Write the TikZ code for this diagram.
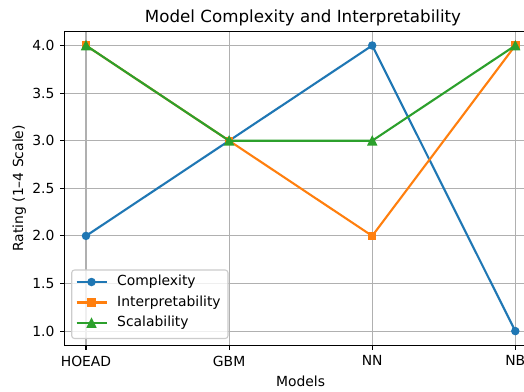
\documentclass[tikz,border=0pt]{standalone}
\usepackage{fontspec}
\setmainfont{DejaVu Sans}
\definecolor{tabblue}{HTML}{1F77B4}
\definecolor{taborange}{HTML}{FF7F0E}
\definecolor{tabgreen}{HTML}{2CA02C}
\definecolor{gridgray}{HTML}{B0B0B0}
\definecolor{legedge}{HTML}{CCCCCC}
\begin{document}
\begin{tikzpicture}[x=1pt,y=-1pt,
  gridline/.style={draw=gridgray,line width=1.1pt},
  spine/.style={draw=black,line width=1.1pt},
  series/.style={line width=2.1pt,line join=round,line cap=round},
  ticklab/.style={font=\fontsize{13.9}{16}\selectfont,inner sep=0pt},
  titlelab/.style={font=\fontsize{16.7}{19}\selectfont,inner sep=0pt},
  mkcircle/.style={fill=#1,draw=#1,line width=1.2pt},
  mksquare/.style={fill=#1,draw=#1,line width=1.2pt,line join=miter},
  mktri/.style={fill=#1,draw=#1,line width=1.2pt,line join=miter}]
\useasboundingbox (0,0) rectangle (524,391);
\clip (0,0) rectangle (524,391);
\fill[white] (0,0) rectangle (524,391);
% coordinates
\def\xa{86}\def\xb{229.1}\def\xc{372.2}\def\xd{515.3}
\def\ya{45.5}\def\yb{93.1}\def\yc{140.7}\def\yd{188.3}\def\ye{235.9}\def\yf{283.5}\def\yg{331.1}
\def\L{64.5}\def\R{536.8}\def\T{31.2}\def\B{345.4}
% grid
\foreach \x in {\xa,\xb,\xc,\xd} \draw[gridline] (\x,\T) -- (\x,\B);
\foreach \y in {\ya,\yb,\yc,\yd,\ye,\yf,\yg} \draw[gridline] (\L,\y) -- (\R,\y);
% series
\coordinate (c1) at (\xa,\ye); \coordinate (c2) at (\xb,\yc); \coordinate (c3) at (\xc,\ya); \coordinate (c4) at (\xd,\yg);
\coordinate (i1) at (\xa,\ya); \coordinate (i2) at (\xb,\yc); \coordinate (i3) at (\xc,\ye); \coordinate (i4) at (\xd,\ya);
\coordinate (s1) at (\xa,\ya); \coordinate (s2) at (\xb,\yc); \coordinate (s3) at (\xc,\yc); \coordinate (s4) at (\xd,\ya);
\draw[series,tabblue] (c1) -- (c2) -- (c3) -- (c4);
\foreach \p in {c1,c2,c3,c4} \path[mkcircle=tabblue] (\p) circle (3.6);
\draw[series,taborange] (i1) -- (i2) -- (i3) -- (i4);
\foreach \p in {i1,i2,i3,i4} \path[mksquare=taborange] ([shift={(-3.6,-3.6)}]\p) rectangle ([shift={(3.6,3.6)}]\p);
\draw[series,tabgreen] (s1) -- (s2) -- (s3) -- (s4);
\foreach \p in {s1,s2,s3,s4} \path[mktri=tabgreen] ([shift={(0,-4.2)}]\p) -- ([shift={(-4.2,4.2)}]\p) -- ([shift={(4.2,4.2)}]\p) -- cycle;
% spines
\draw[spine] (\L,\B) -- (\L,\T) -- (\R,\T) -- (\R,\B) -- cycle;
% ticks
\foreach \x in {\xa,\xb,\xc,\xd} \draw[spine] (\x,\B) -- (\x,\B+4.9);
\foreach \y in {\ya,\yb,\yc,\yd,\ye,\yf,\yg} \draw[spine] (\L,\y) -- (\L-4.9,\y);
% tick labels
\node[ticklab,anchor=north] (xl1) at (\xa,355.5) {HOEAD};
\node[ticklab,anchor=north] (xl2) at (\xb,355.5) {GBM};
\node[ticklab,anchor=north] (xl3) at (\xc,355.5) {NN};
\node[ticklab,anchor=north] (xl4) at (\xd,355.5) {NB};
\node[ticklab,anchor=east] (yl1) at (54.7,\ya) {4.0};
\node[ticklab,anchor=east] (yl2) at (54.7,\yb) {3.5};
\node[ticklab,anchor=east] (yl3) at (54.7,\yc) {3.0};
\node[ticklab,anchor=east] (yl4) at (54.7,\yd) {2.5};
\node[ticklab,anchor=east] (yl5) at (54.7,\ye) {2.0};
\node[ticklab,anchor=east] (yl6) at (54.7,\yf) {1.5};
\node[ticklab,anchor=east] (yl7) at (54.7,\yg) {1.0};
% axis labels and title
\node[ticklab,anchor=base] (xlab) at (300.6,386) {Models};
\node[ticklab,anchor=base,rotate=90] (ylab) at (23,188.3) {Rating (1–4 Scale)};
\node[titlelab,anchor=base] (title) at (303,22) {Model Complexity and Interpretability};
% legend
\draw[draw=legedge,fill=white,fill opacity=0.8,line width=1.1pt,rounded corners=2.8pt] (71.7,270) rectangle (228,338.5);
\coordinate (lg1a) at (76.5,282); \coordinate (lg1b) at (106.5,282);
\coordinate (lg2a) at (76.5,302.5); \coordinate (lg2b) at (106.5,302.5);
\coordinate (lg3a) at (76.5,323); \coordinate (lg3b) at (106.5,323);
\draw[series,tabblue,line cap=butt] (lg1a) -- (lg1b);
\path[mkcircle=tabblue] (91.5,282) circle (3.6);
\draw[series,taborange,line cap=butt] (lg2a) -- (lg2b);
\path[mksquare=taborange] (87.9,298.9) rectangle (95.1,306.1);
\draw[series,tabgreen,line cap=butt] (lg3a) -- (lg3b);
\path[mktri=tabgreen] (91.5,318.8) -- (87.3,327.2) -- (95.7,327.2) -- cycle;
\node[ticklab,anchor=west] (lt1) at (117,282) {Complexity};
\node[ticklab,anchor=west] (lt2) at (117,302.5) {Interpretability};
\node[ticklab,anchor=west] (lt3) at (117,323) {Scalability};
\end{tikzpicture}
\end{document}
